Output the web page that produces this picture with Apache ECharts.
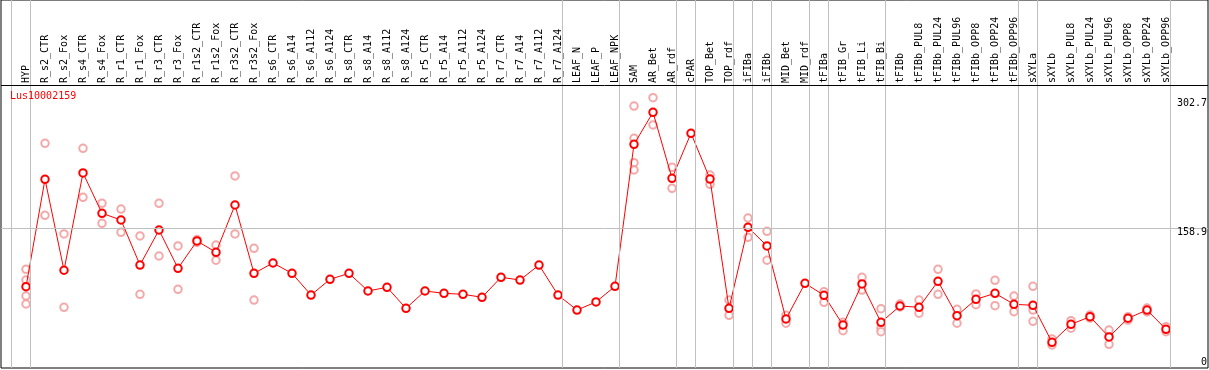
<!DOCTYPE html>
<html>
<head>
<meta charset="utf-8">
<script src="https://cdn.jsdelivr.net/npm/echarts@6/dist/echarts.min.js"></script>
<style>
html,body{margin:0;padding:0;background:#fff;}
#chart{width:1209px;height:370px;}
</style>
</head>
<body>
<div id="chart"></div>
<script>
const title = 'Lus10002159';
const categories = ['HYP','R_s2_CTR','R_s2_Fox','R_s4_CTR','R_s4_Fox','R_r1_CTR','R_r1_Fox','R_r3_CTR','R_r3_Fox','R_r1s2_CTR','R_r1s2_Fox','R_r3s2_CTR','R_r3s2_Fox','R_s6_CTR','R_s6_A14','R_s6_A112','R_s6_A124','R_s8_CTR','R_s8_A14','R_s8_A112','R_s8_A124','R_r5_CTR','R_r5_A14','R_r5_A112','R_r5_A124','R_r7_CTR','R_r7_A14','R_r7_A112','R_r7_A124','LEAF_N','LEAF_P','LEAF_NPK','SAM','AR_Bet','AR_rdf','cPAR','TOP_Bet','TOP_rdf','iFIBa','iFIBb','MID_Bet','MID_rdf','tFIBa','tFIB_Gr','tFIB_Li','tFIB_Bi','tFIBb','tFIBb_PUL8','tFIBb_PUL24','tFIBb_PUL96','tFIBb_OPP8','tFIBb_OPP24','tFIBb_OPP96','sXYLa','sXYLb','sXYLb_PUL8','sXYLb_PUL24','sXYLb_PUL96','sXYLb_OPP8','sXYLb_OPP24','sXYLb_OPP96'];
const means = [86.5,219.7,106.9,227.5,177.5,169.2,113.4,156.8,109.3,143.2,129.2,187.8,103.1,
  115.9,103.1,76.2,95.7,103.1,81.2,85.8,59.7,81.2,78.3,77.1,73.4,98.2,94.8,113.4,76.2,
  57.6,67.6,87.0,
  263.0,302.7,220.9,276.7,220.0,59.7,160.2,137.0,46.5,90.7,75.9,39.0,89.9,42.4,
  62.6,61.0,93.2,50.6,70.9,78.3,64.7,
  63.5,17.6,39.9,49.3,24.2,47.4,57.6,33.7];
const replicates = [
  [108.1,94.8,75.0,65.1],[264.3,175.0],[151.9,61.0],[258.1,197.3],[189.9,165.1],[182.8,154.0],
  [149.4,77.1],[189.9,124.6],[137.0,83.3],[145.0,141.3],[138.2,119.3],[223.8,151.9],[134.1,70.0],
  [],[],[],[],[],[],[],[],[],[],[],[],[],[],[],[],[],[],[],
  [310.5,270.5,240.2,231.2],[320.8,287.0],[234.5,208.5],[],[225.0,213.5],[70.0,51.1],
  [171.7,147.8],[155.2,119.3],[51.1,41.2],[],[80.3,67.2],[42.4,32.0],[98.2,82.4],[59.3,35.0,30.7],
  [65.1,61.4],[70.0,53.6],[108.1,77.1],[58.5,41.2],[77.5,64.2],[94.5,63.0],[75.0,55.5],
  [87.0,57.6,43.6],[21.7,14.3],[44.4,35.0],[51.4,47.7],[32.8,15.1],[49.3,45.2],[60.1,55.2],[36.9,30.7]
];
const groupBreaks = [-1,0,28,31,34,35,37,38,39,41,42,45,52,53,60]; // separator after these category indices
const refLines = [158.9];
const yTickLabels = [302.7,158.9,0];

// layout (pixels / scale framing)
const PX_PER_CAT = 19, FIRST_X = 26, GRID_L = 1, GRID_R = 1, GRID_T = 0, GRID_B = 2;
const W = 1209 - GRID_L - GRID_R, H = 370 - GRID_T - GRID_B;
const xMin = -(FIRST_X - GRID_L) / PX_PER_CAT, xMax = xMin + W / PX_PER_CAT;
const Y0 = 356.5, PX_PER_UNIT = 0.8067;
const yMin = -(GRID_T + H - Y0) / PX_PER_UNIT, yMax = (Y0 - GRID_T) / PX_PER_UNIT;
const HEADER_Y = 85;
const headerVal = (Y0 - HEADER_Y) / PX_PER_UNIT;

const repData = [];
replicates.forEach((arr, i) => arr.forEach(v => repData.push([i, v])));
const meanData = means.map((v, i) => [i, v]);
const catIdx = categories.map((c, i) => i);
const font = '"DejaVu Sans Mono", "Liberation Mono", monospace';

const chart = echarts.init(document.getElementById('chart'), null, {renderer: 'canvas'});
chart.setOption({
  animation: false,
  backgroundColor: '#fff',
  title: {text: title, left: 10, top: 91, padding: 0,
    textStyle: {color: '#ff0000', fontSize: 10, fontWeight: 'normal', fontFamily: font}},
  grid: {left: GRID_L, right: GRID_R, top: GRID_T, bottom: GRID_B, show: true,
    borderColor: '#000', borderWidth: 1, backgroundColor: 'transparent', containLabel: false, outerBoundsMode: 'none'},
  xAxis: {type: 'value', min: xMin, max: xMax, position: 'bottom', offset: -(370 - GRID_B - HEADER_Y),
    axisLine: {show: false}, axisTick: {show: false}, splitLine: {show: false},
    axisLabel: {show: true, inside: true, rotate: 90, margin: 2, customValues: catIdx,
      formatter: v => categories[Math.round(v)] || '', color: '#000', fontSize: 10, fontFamily: font}},
  yAxis: {type: 'value', min: yMin, max: yMax, show: true,
    axisLine: {show: false}, axisTick: {show: false}, splitLine: {show: false}, axisLabel: {show: false}},
  series: [
    {type: 'scatter', name: 'replicates', data: repData, symbol: 'emptyCircle', symbolSize: 7.5,
      itemStyle: {color: '#f09494', borderWidth: 1}, z: 3,
      markLine: {silent: true, symbol: 'none', label: {show: false}, animation: false,
        data: [
          ...groupBreaks.map(b => ({xAxis: b + 0.24, lineStyle: {color: '#c0c0c0', width: 1, type: 'solid'}})),
          ...refLines.map(r => ({yAxis: r, lineStyle: {color: '#c0c0c0', width: 1, type: 'solid'}})),
          {yAxis: headerVal, lineStyle: {color: '#000', width: 1, type: 'solid'}}
        ]}},
    {type: 'line', name: 'mean', data: meanData, symbol: 'emptyCircle', symbolSize: 7.5, showSymbol: true,
      lineStyle: {color: '#ff0000', width: 1}, itemStyle: {color: '#ff0000', borderWidth: 1.4}, z: 4}
  ]
});

// right-side value labels, positioned through the y scale
const labelOffsets = {0: 6, 1: 4, 2: -9};
const graphics = yTickLabels.map(v => {
  const y = chart.convertToPixel({yAxisIndex: 0}, v);
  const key = v === 0 ? 0 : (v === refLines[0] ? 1 : 2);
  return {type: 'text', right: 2, y: y + labelOffsets[key] - 5,
    style: {text: String(v), fill: '#000', font: '10px ' + font, textAlign: 'right'}, z: 10};
});
chart.setOption({graphic: graphics});
</script>
</body>
</html>
